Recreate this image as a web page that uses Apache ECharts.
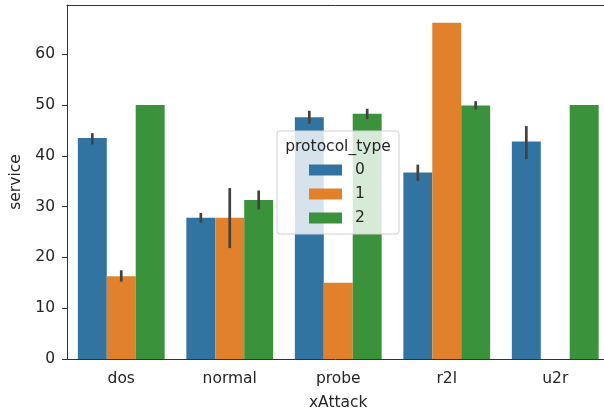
<!DOCTYPE html>
<html><head><meta charset="utf-8">
<script src="https://cdn.jsdelivr.net/npm/echarts@6/dist/echarts.min.js"></script>
<style>html,body{margin:0;padding:0;background:#fff}#c{width:604px;height:414px}</style>
</head><body><div id="c"></div>
<script>
const categories = ['dos', 'normal', 'probe', 'r2l', 'u2r'];
const hues = ['0', '1', '2'];
const mean0 = [43.5, 27.8, 47.6, 36.7, 42.8];
const mean1 = [16.3, 27.8, 15.0, 66.2, null];
const mean2 = [50.0, 31.3, 48.3, 49.9, 50.0];
const lo0 = [42.5, 27.1, 46.6, 35.3, 39.6];
const hi0 = [44.2, 28.5, 48.6, 38.0, 45.6];
const lo1 = [15.5, 22.1, null, null, null];
const hi1 = [17.2, 33.4, null, null, null];
const lo2 = [null, 29.7, 47.5, 49.4, null];
const hi2 = [null, 32.9, 49.0, 50.5, null];
const yTicks = [0, 10, 20, 30, 40, 50, 60];
const colors = ['#3274a1', '#e1812c', '#3a923a'];

const means = [mean0, mean1, mean2];
const los = [lo0, lo1, lo2];
const his = [hi0, hi1, hi2];
const font = 'DejaVu Sans';
const fs = 15.5;
const txt = '#262626';

const series = [];
means.forEach((m, h) => {
  series.push({
    name: hues[h], type: 'bar', data: m,
    barGap: '0%', barCategoryGap: '20%',
    itemStyle: {color: colors[h]}, z: 2
  });
});
means.forEach((m, h) => {
  const d = [];
  categories.forEach((c, i) => {
    if (los[h][i] != null) d.push([i, los[h][i], his[h][i]]);
  });
  series.push({
    type: 'custom', data: d, z: 3, silent: true,
    encode: {x: 0, y: [1, 2]},
    renderItem: function (params, api) {
      const idx = api.value(0);
      const band = api.size([1, 0])[0];
      const off = (h - 1) * band * 0.8 / 3;
      const p1 = api.coord([idx, api.value(1)]);
      const p2 = api.coord([idx, api.value(2)]);
      return {
        type: 'line',
        shape: {x1: p1[0] + off, y1: p1[1], x2: p2[0] + off, y2: p2[1]},
        style: {stroke: '#424242', lineWidth: 2.7, lineCap: 'square'}
      };
    }
  });
});

const chart = echarts.init(document.getElementById('c'), null, {renderer: 'canvas'});
chart.setOption({
  animation: false,
  backgroundColor: '#fff',
  textStyle: {fontFamily: font},
  grid: {left: 67, top: 5, width: 542.5, height: 354, outerBoundsMode: 'none', containLabel: false, show: false},
  xAxis: [{
    type: 'category', data: categories,
    name: 'xAttack', nameLocation: 'middle', nameGap: 36,
    nameTextStyle: {fontSize: fs, color: txt, fontFamily: font},
    axisLine: {lineStyle: {color: '#333', width: 1}},
    axisTick: {alignWithLabel: true, length: 5, lineStyle: {color: '#333'}},
    axisLabel: {fontSize: fs, color: txt, margin: 12, fontFamily: font}
  }, {
    type: 'category', data: categories, position: 'top',
    axisLine: {show: true, lineStyle: {color: '#333', width: 1}},
    axisTick: {show: false}, axisLabel: {show: false}
  }],
  yAxis: {
    type: 'value', min: 0, max: 69.7,
    name: 'service', nameLocation: 'middle', nameGap: 38,
    nameTextStyle: {fontSize: fs, color: txt, fontFamily: font},
    axisLine: {show: true, lineStyle: {color: '#333', width: 1}},
    axisTick: {show: true, length: 5, customValues: yTicks, lineStyle: {color: '#333'}},
    axisLabel: {fontSize: fs, color: txt, margin: 12, customValues: yTicks, fontFamily: font},
    splitLine: {show: false}
  },
  legend: {
    data: hues, orient: 'vertical', left: 309, top: 161, padding: 0,
    itemWidth: 33, itemHeight: 11, itemGap: 6, icon: 'rect',
    textStyle: {fontSize: fs, color: txt, lineHeight: 18, padding: [0, 0, 0, 8], fontFamily: font},
    z: 5
  },
  graphic: [
    {type: 'rect', z: 4, shape: {x: 277, y: 131, width: 122, height: 103, r: 3},
     style: {fill: 'rgba(255,255,255,0.8)', stroke: '#d0d0d0', lineWidth: 1}},
    {type: 'text', z: 5, x: 338, y: 147,
     style: {text: 'protocol_type', fontSize: fs, fontFamily: font, fill: txt, align: 'center', verticalAlign: 'middle'}}
  ],
  series: series
});
</script></body></html>
